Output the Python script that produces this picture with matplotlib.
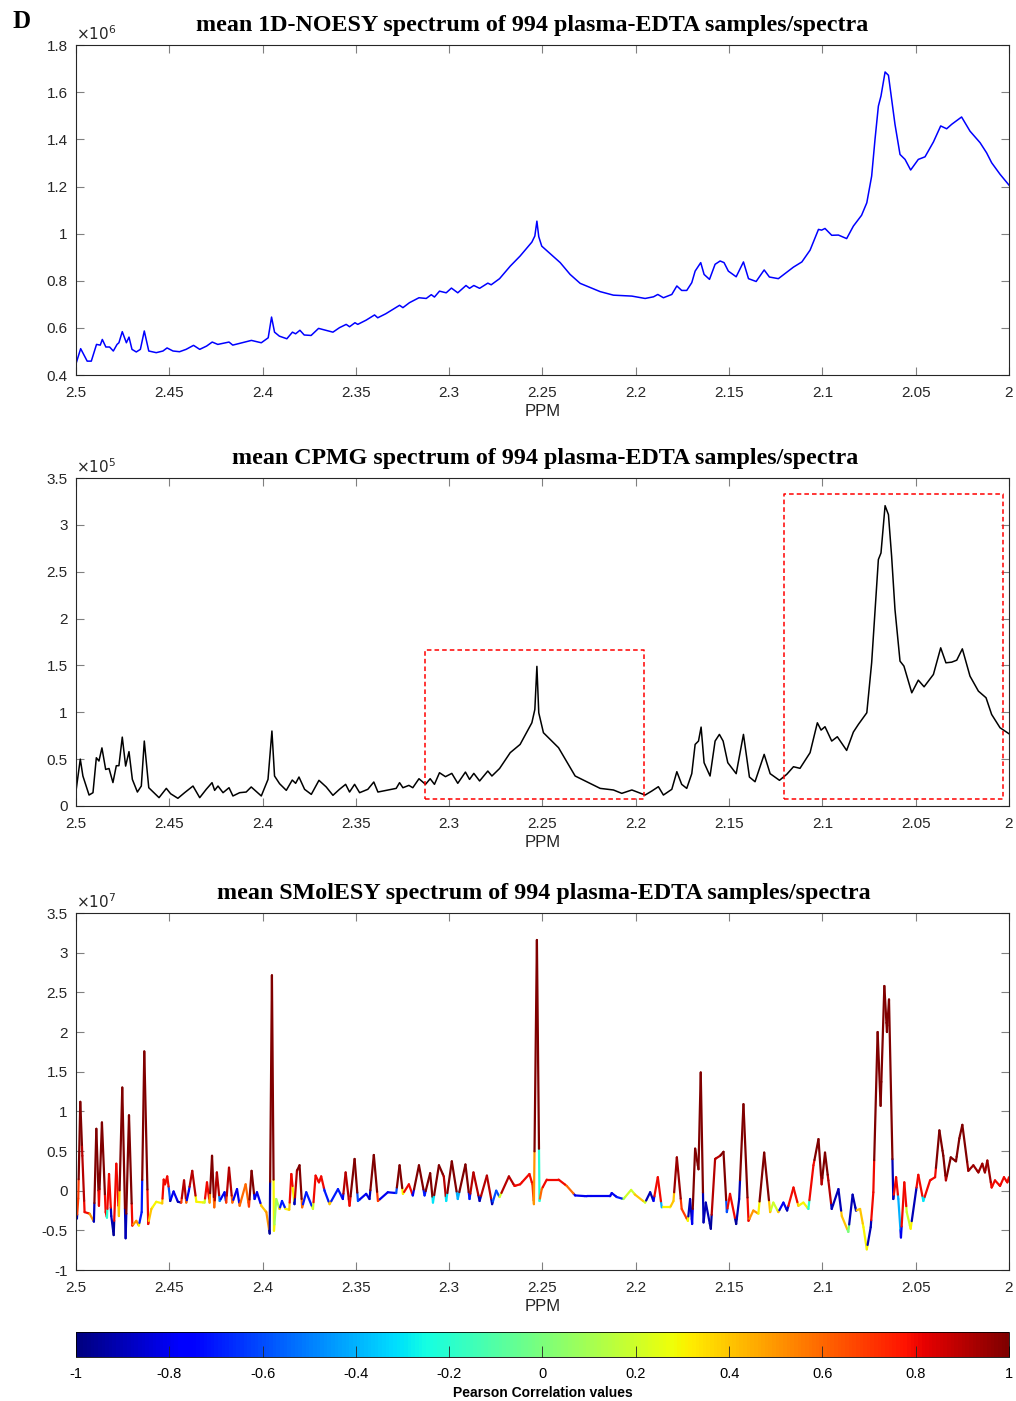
import numpy as np
import matplotlib
matplotlib.use('Agg')
import matplotlib.pyplot as plt
from matplotlib.collections import LineCollection
from matplotlib.ticker import FuncFormatter

# mean 1D-NOESY (x1e6)
noesy_ppm = [2.5, 2.4975, 2.494, 2.4918, 2.489, 2.487, 2.4859, 2.484, 2.482, 2.480, 2.478, 2.477,
             2.4752, 2.473, 2.4716, 2.470, 2.4677, 2.4655, 2.4634, 2.461, 2.457, 2.4534, 2.4512, 2.448,
             2.4445, 2.441, 2.437, 2.4337, 2.430, 2.427, 2.424, 2.418, 2.416, 2.409, 2.406, 2.4007,
             2.397, 2.3952, 2.3936, 2.391, 2.387, 2.384, 2.3823, 2.380, 2.3777, 2.374, 2.370, 2.3623,
             2.3588, 2.3552, 2.3534, 2.3505, 2.349, 2.3445, 2.340, 2.3383, 2.334, 2.3266, 2.3248, 2.3213,
             2.3162, 2.3123, 2.3096, 2.3079, 2.3052, 2.3016, 2.2988, 2.2954, 2.291, 2.2891, 2.2868, 2.2837,
             2.2793, 2.2775, 2.273, 2.2673, 2.262, 2.2557, 2.2541, 2.253, 2.252, 2.2504, 2.2459, 2.2405,
             2.2352, 2.2298, 2.2191, 2.212, 2.2021, 2.195, 2.1905, 2.1882, 2.1852, 2.1807, 2.178, 2.1754,
             2.1727, 2.17, 2.1682, 2.1652, 2.1634, 2.1605, 2.1575, 2.1548, 2.1527, 2.1504, 2.1462, 2.1423,
             2.1396, 2.1355, 2.1312, 2.1284, 2.1236, 2.1155, 2.111, 2.1066, 2.1021, 2.1004, 2.0986, 2.095,
             2.0914, 2.087, 2.0834, 2.079, 2.0762, 2.0736, 2.0718, 2.07, 2.0686, 2.0664, 2.0646, 2.0629,
             2.0611, 2.0584, 2.0557, 2.0527, 2.0486, 2.045, 2.0405, 2.0366, 2.0334, 2.0307, 2.0254, 2.0209,
             2.0155, 2.012, 2.0093, 2.0048, 2.0]
noesy_val = [0.448, 0.512, 0.459, 0.459, 0.530, 0.527, 0.551, 0.519, 0.519, 0.502, 0.530, 0.537,
             0.584, 0.537, 0.561, 0.509, 0.498, 0.509, 0.587, 0.502, 0.495, 0.502, 0.515, 0.502,
             0.499, 0.509, 0.526, 0.509, 0.523, 0.540, 0.530, 0.540, 0.527, 0.541, 0.547, 0.537,
             0.558, 0.646, 0.582, 0.565, 0.554, 0.582, 0.575, 0.590, 0.570, 0.568, 0.598, 0.582,
             0.601, 0.615, 0.605, 0.622, 0.615, 0.633, 0.655, 0.643, 0.660, 0.696, 0.686, 0.707,
             0.728, 0.725, 0.741, 0.731, 0.756, 0.749, 0.769, 0.749, 0.780, 0.768, 0.780, 0.768,
             0.790, 0.783, 0.809, 0.862, 0.905, 0.964, 0.990, 1.053, 0.987, 0.947, 0.915, 0.877,
             0.827, 0.789, 0.754, 0.739, 0.735, 0.725, 0.732, 0.742, 0.728, 0.742, 0.778, 0.759,
             0.759, 0.792, 0.841, 0.877, 0.827, 0.806, 0.870, 0.884, 0.877, 0.841, 0.817, 0.880,
             0.809, 0.797, 0.846, 0.816, 0.809, 0.858, 0.880, 0.930, 1.018, 1.015, 1.022, 0.993,
             0.994, 0.979, 1.032, 1.078, 1.131, 1.244, 1.400, 1.541, 1.584, 1.686, 1.672, 1.570,
             1.464, 1.336, 1.315, 1.270, 1.315, 1.326, 1.389, 1.457, 1.445, 1.464, 1.495, 1.435,
             1.386, 1.343, 1.301, 1.252, 1.206]

# mean CPMG (x1e5)
cpmg_ppm = [2.5, 2.4977, 2.4963, 2.493, 2.4909, 2.4891, 2.4877, 2.4861, 2.4841, 2.4823, 2.4802, 2.4784,
            2.477, 2.4752, 2.4734, 2.4716, 2.4698, 2.4671, 2.465, 2.4634, 2.461, 2.4555, 2.4516, 2.4493,
            2.4454, 2.4418, 2.4373, 2.4337, 2.4302, 2.4271, 2.4257, 2.4239, 2.4212, 2.418, 2.4159, 2.4123,
            2.4088, 2.4061, 2.4007, 2.3971, 2.395, 2.3936, 2.3909, 2.3873, 2.3841, 2.3823, 2.3805, 2.3775,
            2.3739, 2.3698, 2.3659, 2.3623, 2.3588, 2.3555, 2.3534, 2.3507, 2.348, 2.3436, 2.3404, 2.3382,
            2.3284, 2.3266, 2.3248, 2.3216, 2.3195, 2.3162, 2.3127, 2.3102, 2.3079, 2.3052, 2.302, 2.2986,
            2.2954, 2.2913, 2.2891, 2.2868, 2.2837, 2.2793, 2.2771, 2.273, 2.2673, 2.262, 2.2557, 2.2541,
            2.253, 2.252, 2.2495, 2.2414, 2.2325, 2.2191, 2.212, 2.2075, 2.2021, 2.195, 2.1914, 2.1879,
            2.1852, 2.1807, 2.178, 2.1754, 2.1727, 2.17, 2.1682, 2.1664, 2.165, 2.1634, 2.1602, 2.1575,
            2.1552, 2.1532, 2.1507, 2.1462, 2.1423, 2.1391, 2.1361, 2.1312, 2.128, 2.123, 2.1191, 2.1155,
            2.112, 2.1066, 2.1027, 2.1007, 2.0986, 2.095, 2.092, 2.087, 2.0834, 2.0807, 2.0762, 2.0736,
            2.07, 2.0686, 2.0664, 2.0646, 2.0629, 2.0611, 2.0584, 2.0563, 2.0521, 2.0486, 2.0455, 2.0405,
            2.0366, 2.0338, 2.0307, 2.028, 2.025, 2.0209, 2.0164, 2.0123, 2.0093, 2.0048, 2.0]
cpmg_val = [0.16, 0.50, 0.32, 0.117, 0.142, 0.515, 0.48, 0.62, 0.39, 0.40, 0.25, 0.43,
            0.43, 0.735, 0.426, 0.58, 0.284, 0.149, 0.213, 0.693, 0.195, 0.089, 0.188, 0.131,
            0.082, 0.142, 0.213, 0.089, 0.178, 0.249, 0.167, 0.213, 0.142, 0.195, 0.107, 0.142,
            0.149, 0.203, 0.107, 0.284, 0.80, 0.32, 0.238, 0.167, 0.277, 0.242, 0.309, 0.178,
            0.124, 0.274, 0.203, 0.114, 0.178, 0.231, 0.149, 0.231, 0.142, 0.178, 0.256, 0.149,
            0.188, 0.249, 0.195, 0.220, 0.195, 0.291, 0.231, 0.291, 0.231, 0.355, 0.313, 0.348,
            0.242, 0.362, 0.284, 0.348, 0.267, 0.373, 0.32, 0.40, 0.569, 0.657, 0.888, 1.03,
            1.49, 0.995, 0.782, 0.622, 0.32, 0.188, 0.171, 0.135, 0.171, 0.117, 0.16, 0.206,
            0.117, 0.178, 0.366, 0.231, 0.188, 0.345, 0.657, 0.693, 0.842, 0.462, 0.32, 0.693,
            0.764, 0.693, 0.462, 0.345, 0.764, 0.309, 0.259, 0.551, 0.345, 0.274, 0.338, 0.419,
            0.402, 0.569, 0.888, 0.81, 0.846, 0.693, 0.739, 0.593, 0.789, 0.871, 0.995, 1.528,
            2.63, 2.70, 3.205, 3.109, 2.665, 2.097, 1.546, 1.493, 1.208, 1.343, 1.272, 1.404,
            1.688, 1.528, 1.535, 1.556, 1.677, 1.386, 1.226, 1.155, 0.977, 0.835, 0.771]

# dashed boxes on the CPMG panel: (ppm left, ppm right, bottom, top)
boxes = [(2.313, 2.1956, 0.071, 1.663), (2.1206, 2.0034, 0.071, 3.33)]

# mean SMolESY (x1e7) and Pearson correlation
smol_ppm = [2.5, 2.4995, 2.4988, 2.4977, 2.4966, 2.4954, 2.4927, 2.4904, 2.4891, 2.4877, 2.4861, 2.4841,
            2.4834, 2.4823, 2.4811, 2.4798, 2.4784, 2.477, 2.4752, 2.4734, 2.4716, 2.4698, 2.4677, 2.4663,
            2.4648, 2.4634, 2.4613, 2.4596, 2.457, 2.4538, 2.453, 2.4523, 2.4511, 2.4502, 2.4495, 2.4477,
            2.4454, 2.4436, 2.4421, 2.4409, 2.4395, 2.4377, 2.4355, 2.4311, 2.4298, 2.4284, 2.4271, 2.4259,
            2.4245, 2.423, 2.4204, 2.4195, 2.418, 2.4162, 2.4137, 2.4123, 2.4091, 2.4073, 2.4059, 2.4043,
            2.403, 2.4007, 2.398, 2.3962, 2.395, 2.3939, 2.3927, 2.3909, 2.3896, 2.3877, 2.3857, 2.3846,
            2.3838, 2.3829, 2.3816, 2.3802, 2.3788, 2.3766, 2.373, 2.3716, 2.3698, 2.3686, 2.3668, 2.3641,
            2.3596, 2.357, 2.3555, 2.3534, 2.3507, 2.3489, 2.3445, 2.3427, 2.3404, 2.3382, 2.3329, 2.3284,
            2.3266, 2.3248, 2.3216, 2.3195, 2.3162, 2.3132, 2.3102, 2.3087, 2.3055, 2.3029, 2.3016, 2.2986,
            2.2954, 2.2913, 2.2891, 2.287, 2.2837, 2.2798, 2.277, 2.2748, 2.273, 2.268, 2.265, 2.262,
            2.257, 2.2554, 2.2546, 2.253, 2.2516, 2.2504, 2.2477, 2.2414, 2.237, 2.2325, 2.2263, 2.2138,
            2.2129, 2.2102, 2.2066, 2.2025, 2.2004, 2.195, 2.1923, 2.1905, 2.1882, 2.1861, 2.1816, 2.1798,
            2.178, 2.1754, 2.1721, 2.1709, 2.1698, 2.1682, 2.1664, 2.1652, 2.1637, 2.1625, 2.1598, 2.1575,
            2.1548, 2.153, 2.1512, 2.1495, 2.1462, 2.1446, 2.1423, 2.1396, 2.137, 2.1343, 2.1312, 2.128,
            2.1263, 2.1236, 2.1209, 2.1189, 2.1155, 2.1129, 2.1102, 2.1075, 2.1048, 2.1021, 2.1004, 2.0986,
            2.0968, 2.095, 2.0914, 2.0896, 2.0861, 2.0838, 2.082, 2.0798, 2.078, 2.0762, 2.0741, 2.0727,
            2.0704, 2.0688, 2.0668, 2.0654, 2.0643, 2.062, 2.0605, 2.0593, 2.0579, 2.0561, 2.0548, 2.0527,
            2.0498, 2.0486, 2.0459, 2.0423, 2.0396, 2.0373, 2.0352, 2.0338, 2.0312, 2.0284, 2.0266, 2.025,
            2.0218, 2.0191, 2.0164, 2.0143, 2.0129, 2.0116, 2.0093, 2.0075, 2.0048, 2.0027, 2.0009, 2.0]
smol_val = [-0.23, -0.35, -0.10, 1.12, 0.44, -0.27, -0.29, -0.39, 0.78, -0.19, 0.86, -0.27,
            -0.34, 0.21, -0.32, -0.56, 0.34, -0.32, 1.30, -0.60, 0.95, -0.44, -0.38, -0.44,
            -0.27, 1.755, -0.42, -0.23, -0.14, -0.16, 0.14, 0.08, 0.18, 0.02, -0.13, -0.01,
            -0.14, -0.15, 0.13, -0.15, 0.0, 0.25, -0.14, -0.15, 0.105, -0.15, 0.44, -0.21,
            0.23, -0.13, -0.02, -0.15, 0.29, -0.15, 0.02, -0.19, 0.08, -0.20, 0.25, -0.105,
            -0.02, -0.19, -0.27, -0.54, 2.715, -0.505, -0.105, -0.23, -0.13, -0.23, -0.24, 0.21,
            0.02, -0.17, 0.25, 0.32, -0.21, -0.02, -0.23, 0.19, 0.105, 0.18, 0.0, -0.17,
            0.02, -0.105, 0.23, -0.19, 0.40, -0.13, -0.04, -0.105, 0.45, -0.13, -0.02, -0.03,
            0.32, -0.04, 0.08, -0.06, 0.32, -0.06, 0.22, -0.15, 0.32, 0.18, -0.13, 0.37,
            -0.105, 0.33, -0.105, 0.23, -0.13, 0.19, -0.17, 0.0, -0.08, 0.18, 0.06, 0.08,
            0.21, 0.08, -0.17, 3.16, -0.13, 0.02, 0.14, 0.14, 0.06, -0.06, -0.07, -0.07,
            -0.03, -0.08, -0.105, 0.01, -0.05, -0.15, -0.02, -0.13, 0.17, -0.21, -0.21, -0.13,
            0.42, -0.23, -0.38, -0.105, -0.42, 0.53, 0.27, 1.49, -0.40, -0.15, -0.48, 0.40,
            0.44, 0.49, -0.27, -0.04, -0.42, -0.105, 1.09, -0.38, -0.25, -0.29, 0.48, -0.27,
            -0.15, -0.27, -0.15, -0.25, 0.04, -0.19, -0.15, -0.23, 0.32, 0.65, 0.08, 0.48,
            0.13, -0.23, 0.02, -0.32, -0.52, -0.05, -0.25, -0.23, -0.46, -0.74, -0.46, -0.02,
            2.0, 1.07, 2.58, 2.0, 2.41, -0.105, 0.17, -0.105, -0.59, 0.105, -0.27, -0.48,
            0.0, 0.20, -0.13, 0.13, 0.17, 0.76, 0.44, 0.13, 0.42, 0.37, 0.66, 0.83,
            0.25, 0.32, 0.23, 0.34, 0.23, 0.38, 0.04, 0.13, 0.06, 0.17, 0.105, 0.17]
smol_corr = [0.4, -0.9, 0.7, 1.0, 0.9, 0.8, 0.5, -0.9, 1.0, 0.8, 1.0, 0.8,
             -0.2, 0.8, -0.9, -0.95, 0.8, 0.4, 1.0, -0.9, 1.0, 0.8, 0.5, 0.3,
             -0.7, 1.0, 0.8, 0.4, 0.3, 0.4, 0.8, 0.8, 0.8, -0.6, -0.9, -0.8,
             -0.9, 0.7, 0.9, 0.6, -0.8, 0.9, 0.3, 0.2, 0.8, 0.5, 1.0, 0.6,
             0.9, -0.5, -0.8, 0.7, 0.9, 0.6, -0.8, 0.6, 0.6, 0.7, 1.0, -0.8,
             -0.8, 0.4, 0.5, -0.95, 1.0, 0.3, 0.1, 0.4, -0.7, 0.3, 0.4, 0.8,
             0.3, -0.9, 0.9, 1.0, 0.6, -0.7, 0.2, 0.8, 0.8, 0.8, -0.7, 0.4,
             -0.7, -0.8, 0.9, 0.8, 1.0, -0.6, -0.8, -0.9, 1.0, 0.7, -0.8, -0.6,
             1.0, 0.3, 0.8, -0.8, 1.0, -0.7, 1.0, -0.3, 1.0, 0.9, -0.3, 1.0,
             -0.4, 1.0, -0.7, 0.9, -0.9, 0.9, -0.9, -0.6, 0.2, 0.9, 0.8, 0.8,
             0.8, 0.7, 0.5, 1.0, -0.2, 0.6, 0.8, 0.8, 0.6, -0.8, -0.8, -0.8,
             -0.8, -0.7, 0.1, 0.2, 0.4, 0.2, -0.9, -0.8, 0.8, -0.4, 0.3, 0.4,
             0.95, 0.7, 0.3, -0.9, -0.8, 1.0, 1.0, 1.0, -0.9, -0.9, -0.95, 0.9,
             0.9, 1.0, -0.6, 0.8, -0.95, -0.9, 1.0, 0.8, 0.5, 0.3, 1.0, 0.4,
             0.2, 0.4, -0.8, -0.9, 0.8, 0.4, 0.3, -0.2, 0.8, 1.0, 0.9, 1.0,
             0.9, -0.9, -0.9, 0.4, 0.0, -0.9, -0.9, 0.4, 0.3, 0.3, -0.9, 0.8,
             1.0, 1.0, 1.0, 1.0, 1.0, -0.9, 0.8, -0.4, -0.8, 0.8, 0.2, 0.3,
             -0.9, 0.8, -0.3, 0.8, 0.8, 1.0, 1.0, 0.9, 1.0, 1.0, 1.0, 1.0,
             0.95, 0.95, 0.95, 0.95, 0.95, 0.95, 0.8, 0.8, 0.8, 0.8, 0.8, 0.8]

titles = ['mean 1D-NOESY spectrum of 994 plasma-EDTA samples/spectra',
          'mean CPMG spectrum of 994 plasma-EDTA samples/spectra',
          'mean SMolESY spectrum of 994 plasma-EDTA samples/spectra']
title_x = [0.489, 0.503, 0.501]
exponents = [6, 5, 7]
ylims = [(0.4, 1.8), (0, 3.5), (-1, 3.5)]
yticks = [np.arange(0.4, 1.81, 0.2), np.arange(0, 3.51, 0.5), np.arange(-1, 3.51, 0.5)]
xticks = [2.5, 2.45, 2.4, 2.35, 2.3, 2.25, 2.2, 2.15, 2.1, 2.05, 2.0]
cbar_ticks = [-1, -0.8, -0.6, -0.4, -0.2, 0, 0.2, 0.4, 0.6, 0.8, 1]

plt.rcParams['font.family'] = ['Liberation Sans', 'DejaVu Sans']
fig = plt.figure(figsize=(10.16, 14.01), dpi=100)

rects = [[0.0748, 0.7323, 0.9183, 0.2355],
         [0.0748, 0.4247, 0.9183, 0.2341],
         [0.0748, 0.0935, 0.9183, 0.2548]]
fmt = FuncFormatter(lambda v, p: '%g' % round(v, 4))
axes = []
for i in range(3):
    ax = fig.add_axes(rects[i])
    ax.set_xlim(2.5, 2.0)
    ax.set_ylim(*ylims[i])
    ax.set_xticks(xticks)
    ax.set_yticks(yticks[i])
    ax.xaxis.set_major_formatter(fmt)
    ax.yaxis.set_major_formatter(fmt)
    ax.tick_params(direction='in', top=True, right=True, length=6, width=0.8,
                   color='#808080', labelsize=11, labelcolor='#262626')
    ax.tick_params(axis='x', pad=8)
    ax.tick_params(axis='y', pad=6)
    for s in ax.spines.values():
        s.set_color('#262626')
        s.set_linewidth(0.8)
    ax.set_xlabel('PPM', fontsize=12, color='#262626', labelpad=3)
    ax.set_title(titles[i], fontsize=17.3, fontweight='bold', family='Liberation Serif',
                 pad=10, x=title_x[i])
    ax.text(0.0, 1.005, r'$\times 10^{%d}$' % exponents[i], transform=ax.transAxes,
            fontsize=11, color='#262626', va='bottom', ha='left')
    axes.append(ax)

axes[0].plot(noesy_ppm, noesy_val, color='#0000ff', lw=1.1)
axes[1].plot(cpmg_ppm, cpmg_val, color='black', lw=1.1)
for x0, x1, y0, y1 in boxes:
    axes[1].plot([x0, x1, x1, x0, x0], [y0, y0, y1, y1, y0], color='#ff0000',
                 ls=(0, (3, 2)), lw=1.1)

# colour each segment: short piece near the lower point takes its colour, the rest the upper point's
segs, cols = [], []
for k in range(len(smol_ppm) - 1):
    a = (smol_ppm[k], smol_val[k], smol_corr[k])
    b = (smol_ppm[k + 1], smol_val[k + 1], smol_corr[k + 1])
    lo, hi = (a, b) if a[1] <= b[1] else (b, a)
    m = (lo[0] + 0.2 * (hi[0] - lo[0]), lo[1] + 0.2 * (hi[1] - lo[1]))
    segs.append([(lo[0], lo[1]), m])
    cols.append(lo[2])
    segs.append([m, (hi[0], hi[1])])
    cols.append(hi[2])
lc = LineCollection(segs, cmap='jet', norm=plt.Normalize(-1, 1), linewidths=1.6,
                    capstyle='round', joinstyle='round')
lc.set_array(np.array(cols))
axes[2].add_collection(lc)

fig.text(0.012, 0.985, 'D', fontsize=18, fontweight='bold', family='Liberation Serif', va='center')

cax = fig.add_axes([0.0748, 0.0314, 0.9183, 0.0178])
cb = fig.colorbar(lc, cax=cax, orientation='horizontal', ticks=cbar_ticks)
cb.ax.xaxis.set_major_formatter(fmt)
cb.ax.tick_params(direction='in', length=8, width=0.6, labelsize=10.5, color='#262626', pad=7)
cb.outline.set_linewidth(0.6)
cb.set_label('Pearson Correlation values', fontsize=10, fontweight='bold', labelpad=4)

fig.savefig('out.png', dpi=100)
